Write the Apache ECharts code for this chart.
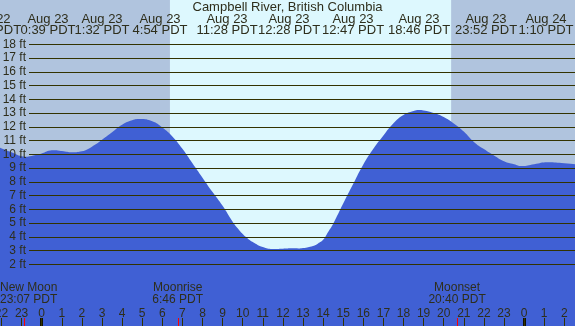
<!DOCTYPE html>
<html><head><meta charset="utf-8">
<script src="https://cdn.jsdelivr.net/npm/echarts@6/dist/echarts.min.js"></script>
<style>html,body{margin:0;padding:0;background:#b0c4de;overflow:hidden}#c{width:575px;height:326px}</style>
</head><body><div id="c"></div>
<script>
// ---- data ----
const chartTitle = 'Campbell River, British Columbia';
const tideHours = [-2.1,-1.5,-1.0,-0.8,-0.5,0,0.35,0.65,1.0,1.53,2.0,2.5,3.0,3.5,4.0,4.5,4.9,5.5,6.0,6.5,7.0,7.5,8.0,8.5,9.0,9.5,9.75,10.0,10.25,10.5,11.0,11.47,12.0,12.47,12.78,13.0,13.5,13.75,14.0,14.25,14.5,15.0,15.5,16.0,16.5,17.0,17.5,18.0,18.5,18.77,19.0,19.5,20.0,20.5,21.0,21.5,22.0,22.5,23.0,23.5,23.87,24.5,25.17,26.0,26.6];
const tideFeet  = [10.5,10.15,9.86,9.83,9.88,10.05,10.25,10.3,10.24,10.15,10.22,10.55,11.05,11.6,12.15,12.48,12.57,12.4,11.95,11.3,10.4,9.35,8.3,7.25,6.25,5.1,4.62,4.2,3.88,3.62,3.25,3.11,3.13,3.16,3.15,3.18,3.34,3.52,3.78,4.35,4.95,6.42,7.85,9.26,10.4,11.37,12.26,12.86,13.15,13.22,13.18,13.0,12.71,12.24,11.65,10.9,10.38,9.92,9.5,9.28,9.15,9.28,9.42,9.35,9.27];
const extremeDates = ['Aug 22','Aug 23','Aug 23','Aug 23','Aug 23','Aug 23','Aug 23','Aug 23','Aug 23','Aug 24'];
const extremeTimes = ['23:08 PDT','0:39 PDT','1:32 PDT','4:54 PDT','11:28 PDT','12:28 PDT','12:47 PDT','18:46 PDT','23:52 PDT','1:10 PDT'];
const hourTicks = [-2,-1,0,1,2,3,4,5,6,7,8,9,10,11,12,13,14,15,16,17,18,19,20,21,22,23,24,25,26];
const midnightHours = [0, 24];
const depthTicks = [2, 18];
const moonNames = ['New Moon','Moonrise','Moonset'];
const moonTimes = ['23:07 PDT','6:46 PDT','20:40 PDT'];
const moonHours = [-53/60, 6 + 46/60, 20 + 40/60];
const sunriseHour = 6.38, sunsetHour = 20.37;

// ---- layout ----
const topLabelX = [-10, 48, 102, 160, 227, 289, 353, 419, 486, 546];
const FONT = '"Liberation Sans", Arial, sans-serif';
const TXT = '#2e2e1c';
const NIGHT = '#b0c4de', DAY = '#ddf8fe', WATER = '#4060d4', LINE = '#333300';

const chart = echarts.init(document.getElementById('c'), null, {renderer: 'canvas'});
const option = {
  animation: false,
  backgroundColor: NIGHT,
  grid: [
    {left: 0, right: 0, top: 0, bottom: 0, outerBoundsMode: 'none', containLabel: false},
    {left: 29, right: 0, top: 44.3, height: 220, outerBoundsMode: 'none', containLabel: false},
    {left: 1.5, right: 10.7, top: 318, bottom: 0, outerBoundsMode: 'none', containLabel: false}
  ],
  xAxis: [
    {gridIndex: 0, type: 'value', min: -2.0746, max: 26.532, show: false},
    {gridIndex: 1, type: 'value', min: 0, max: 1, show: false},
    {gridIndex: 2, type: 'value', min: hourTicks[0], max: hourTicks[hourTicks.length-1], interval: 1, z: 10,
      axisLine: {show: false}, splitLine: {show: false},
      axisTick: {show: true, inside: true, length: 8, interval: 0, lineStyle: {color: LINE, width: 1}},
      axisLabel: {show: true, inside: true, margin: 6.5, interval: 0, showMinLabel: true, showMaxLabel: true, hideOverlap: false,
        alignMinLabel: 'center', alignMaxLabel: 'center',
        color: TXT, fontSize: 12, fontFamily: FONT,
        formatter: v => String(((v % 24) + 24) % 24)}}
  ],
  yAxis: [
    {gridIndex: 0, type: 'value', min: -2.487, max: 21.222, show: false},
    {gridIndex: 1, type: 'value', min: depthTicks[0], max: depthTicks[1], interval: 1, z: 10,
      axisLine: {show: false}, axisTick: {show: false},
      splitLine: {show: true, lineStyle: {color: LINE, width: 1}},
      axisLabel: {margin: 3, color: TXT, fontSize: 12, fontFamily: FONT, formatter: '{value} ft'}},
    {gridIndex: 2, type: 'value', min: 0, max: 1, show: false}
  ],
  series: [
    {type: 'line', xAxisIndex: 0, yAxisIndex: 0, data: [], z: 1, silent: true,
      markArea: {silent: true, itemStyle: {color: DAY, opacity: 1},
        data: [[{xAxis: sunriseHour}, {xAxis: sunsetHour}]]}},
    {type: 'line', xAxisIndex: 0, yAxisIndex: 0, z: 2, smooth: 0.5, symbol: 'none',
      data: tideHours.map((h, i) => [h, tideFeet[i]]),
      lineStyle: {width: 0, opacity: 0},
      areaStyle: {color: WATER, opacity: 1, origin: 'start'}},
    {type: 'line', xAxisIndex: 2, yAxisIndex: 2, data: [], z: 12, silent: true,
      markLine: {silent: true, symbol: 'none', label: {show: false},
        data: midnightHours.map(h => ({xAxis: h, lineStyle: {color: '#111100', width: 3, type: 'solid'}}))
          .concat(moonHours.map(h => ({xAxis: h, lineStyle: {color: '#ff0000', width: 1, type: 'solid'}})))}}
  ]
};
chart.setOption(option);

// text overlays
const ctx = document.createElement('canvas').getContext('2d');
ctx.font = '12px ' + FONT;
const g = [];
const T = (x, y, text, size, align) => ({type: 'text', x: x, y: y, z: 100, zlevel: 0,
  style: {text: text, fill: TXT, font: size + 'px ' + FONT, align: align || 'center', verticalAlign: 'middle'}});
g.push(T(287.5, 7.5, chartTitle, 13));
extremeDates.forEach((d, i) => {
  g.push(T(topLabelX[i], 19, d, 13));
  g.push(T(topLabelX[i], 30.8, extremeTimes[i], 13));
});
moonNames.forEach((n, i) => {
  const px = chart.convertToPixel({xAxisIndex: 0}, moonHours[i]);
  [[n, 287.2], [moonTimes[i], 299.2]].forEach(([t, y]) => {
    const w = ctx.measureText(t).width;
    let x = px, align = 'center';
    if (px - w / 2 < 0) { x = 0; align = 'left'; }
    if (px + w / 2 > 575) { x = 575; align = 'right'; }
    g.push(T(x, y, t, 12, align));
  });
});
chart.setOption({graphic: g});
</script></body></html>
